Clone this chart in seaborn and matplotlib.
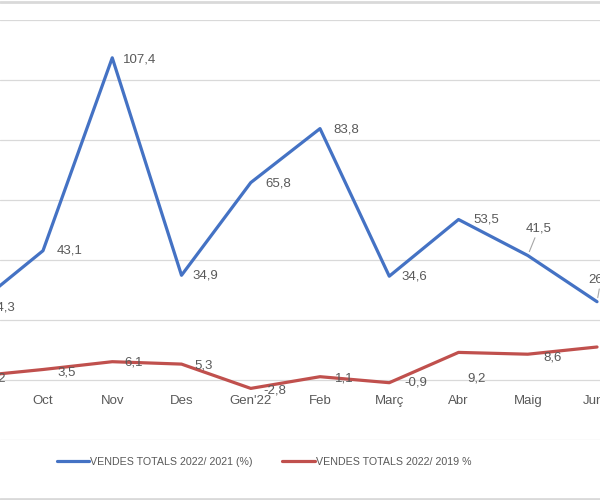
import numpy as np
import pandas as pd
import matplotlib.pyplot as plt
import seaborn as sns

# Data (Set'21 to Juny'22)
months = ['Set', 'Oct', 'Nov', 'Des', "Gen'22", 'Feb', 'Març', 'Abr', 'Maig', 'Juny']
vendes_2021 = [24.3, 43.1, 107.4, 34.9, 65.8, 83.8, 34.6, 53.5, 41.5, 26.1]
vendes_2019 = [1.2, 3.5, 6.1, 5.3, -2.8, 1.1, -0.9, 9.2, 8.6, 11.0]

# label offsets in pixels (dx right, dy down) relative to each point
off_2021 = [(16, 0), (14, 0), (11, 2), (11, 0), (15, 1), (13, 1), (12, 0), (15, 0), (-2, -27), (-9, -22)]
off_2019 = [(14, 2), (14, 3), (12, 1), (13, 1), (13, 2), (15, 2), (15, 0), (9, 26), (16, 3), (12, 2)]

sns.set_style('white')
plt.rcParams['font.family'] = ['Liberation Sans', 'DejaVu Sans']

df = pd.DataFrame({'pos': np.arange(len(months)), 'v21': vendes_2021, 'v19': vendes_2019})

fig = plt.figure(figsize=(6, 5), dpi=100)
ax = fig.add_axes([0, 0.12, 1, 0.84])

blue = '#4472C4'
red = '#C0504D'
grey = '#595959'

sns.lineplot(data=df, x='pos', y='v21', color=blue, lw=2.3, ax=ax, label='VENDES TOTALS 2022/ 2021 (%)')
sns.lineplot(data=df, x='pos', y='v19', color=red, lw=2.3, ax=ax, label='VENDES TOTALS 2022/ 2019 %')

ax.set_xticks(df['pos'])
ax.set_xticklabels(months)
ax.set_yticks(np.arange(-20, 121, 20))
# the picture is a crop: Set sits just off the left edge
ax.set_xlim(0.379, 9.043)
ax.set_ylim(-20, 120)
ax.yaxis.grid(True, color='#D9D9D9', lw=0.9)
ax.set_axisbelow(True)
for s in ax.spines.values():
    s.set_visible(False)
ax.spines['bottom'].set_position(('data', 0))
ax.tick_params(axis='x', length=0, pad=11, labelsize=9.5, labelcolor=grey)
ax.tick_params(axis='y', left=False, labelleft=False)
ax.set_xlabel('')
ax.set_ylabel('')

def fmt(v):
    return f'{v:.1f}'.replace('.', ',')

for i, (v, (dx, dy)) in enumerate(zip(vendes_2021, off_2021)):
    kw = {}
    if i >= 8:
        kw['arrowprops'] = dict(arrowstyle='-', color='#A6A6A6', lw=0.8, shrinkA=0, shrinkB=3)
    ax.annotate(fmt(v), (i, v), xytext=(dx * 0.72, -dy * 0.72), textcoords='offset points',
                ha='left', va='center', fontsize=9.5, color=grey,
                annotation_clip=False, clip_on=True, **kw)

for i, (v, (dx, dy)) in enumerate(zip(vendes_2019, off_2019)):
    ax.annotate(fmt(v), (i, v), xytext=(dx * 0.72, -dy * 0.72), textcoords='offset points',
                ha='left', va='center', fontsize=9.5, color=grey,
                annotation_clip=False, clip_on=True)

handles, labels = ax.get_legend_handles_labels()
ax.get_legend().remove()
fig.legend(handles, labels, loc='center', bbox_to_anchor=(0.44, 0.076), ncol=2,
           frameon=False, fontsize=7.7, labelcolor=grey, handlelength=3.0,
           handletextpad=0.1, columnspacing=2.8)

# chart border lines at top and bottom
fig.add_artist(plt.Line2D([0, 1], [0.997, 0.997], color='#D9D9D9', lw=2))
fig.add_artist(plt.Line2D([0, 1], [0.003, 0.003], color='#D9D9D9', lw=2))

fig.savefig('out.png', dpi=100)
